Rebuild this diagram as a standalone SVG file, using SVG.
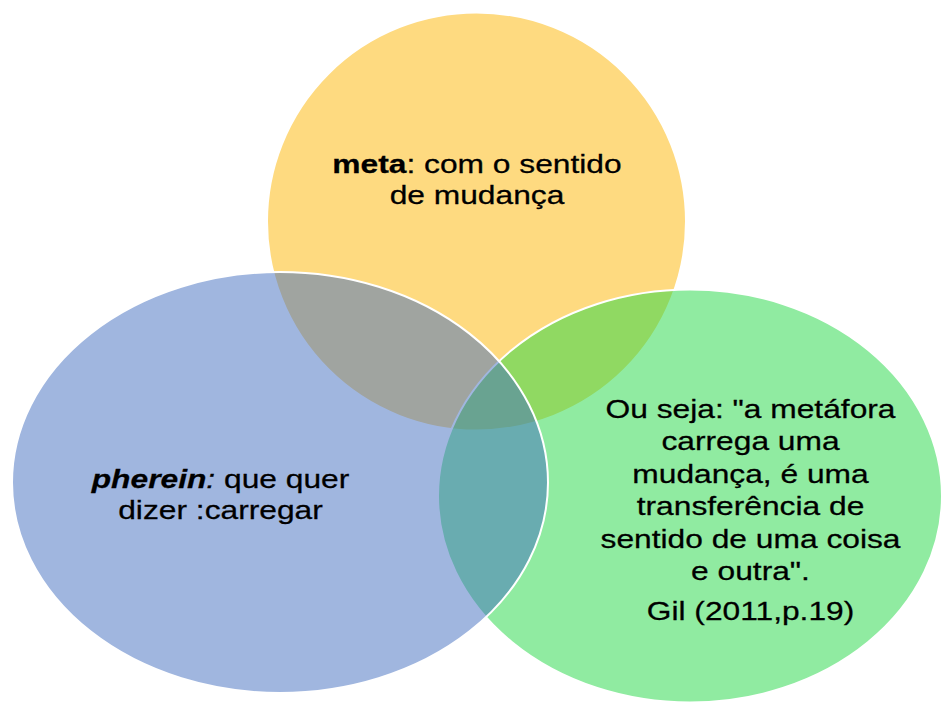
<svg xmlns="http://www.w3.org/2000/svg" width="941" height="703" viewBox="0 0 941 703">
  <style>
    .shape { stroke: #ffffff; stroke-width: 2; }
    .lbl { font-family: "Liberation Sans", Arial, sans-serif; font-size: 25px; fill: #000000; text-anchor: middle; stroke: #000000; stroke-width: 0.25; }
  </style>
  <rect width="941" height="703" fill="#ffffff"/>
  <g id="connectors"/>
  <g id="node-meta">
    <ellipse class="shape" cx="476.5" cy="221.5" rx="209.5" ry="209" fill="rgb(253,181,1)" fill-opacity="0.5"/>
  </g>
  <g id="node-gil">
    <ellipse class="shape" cx="690" cy="496" rx="252" ry="206.5" fill="rgb(33,215,67)" fill-opacity="0.5"/>
  </g>
  <g id="node-pherein">
    <ellipse class="shape" cx="280" cy="482.5" rx="268" ry="210.5" fill="rgb(65,109,191)" fill-opacity="0.5"/>
  </g>
  <g id="text-meta" transform="translate(477,0) scale(1.27,1)">
    <text class="lbl" x="0" y="173"><tspan font-weight="bold">meta</tspan>: com o sentido</text>
    <text class="lbl" x="0" y="204">de mudança</text>
  </g>
  <g id="text-pherein" transform="translate(220.5,0) scale(1.27,1)">
    <text class="lbl" x="0" y="488.5"><tspan font-weight="bold" font-style="italic">pherein</tspan><tspan font-style="italic">:</tspan> que quer</text>
    <text class="lbl" x="0" y="519.5">dizer :carregar</text>
  </g>
  <g id="text-gil" transform="translate(750.5,0) scale(1.27,1)">
    <text class="lbl" x="0" y="418">Ou seja: "a metáfora</text>
    <text class="lbl" x="0" y="450.5">carrega uma</text>
    <text class="lbl" x="0" y="483">mudança, é uma</text>
    <text class="lbl" x="0" y="515.5">transferência de</text>
    <text class="lbl" x="0" y="548">sentido de uma coisa</text>
    <text class="lbl" x="0" y="580.5">e outra".</text>
    <text class="lbl" x="0" y="620">Gil (2011,p.19)</text>
  </g>
</svg>
